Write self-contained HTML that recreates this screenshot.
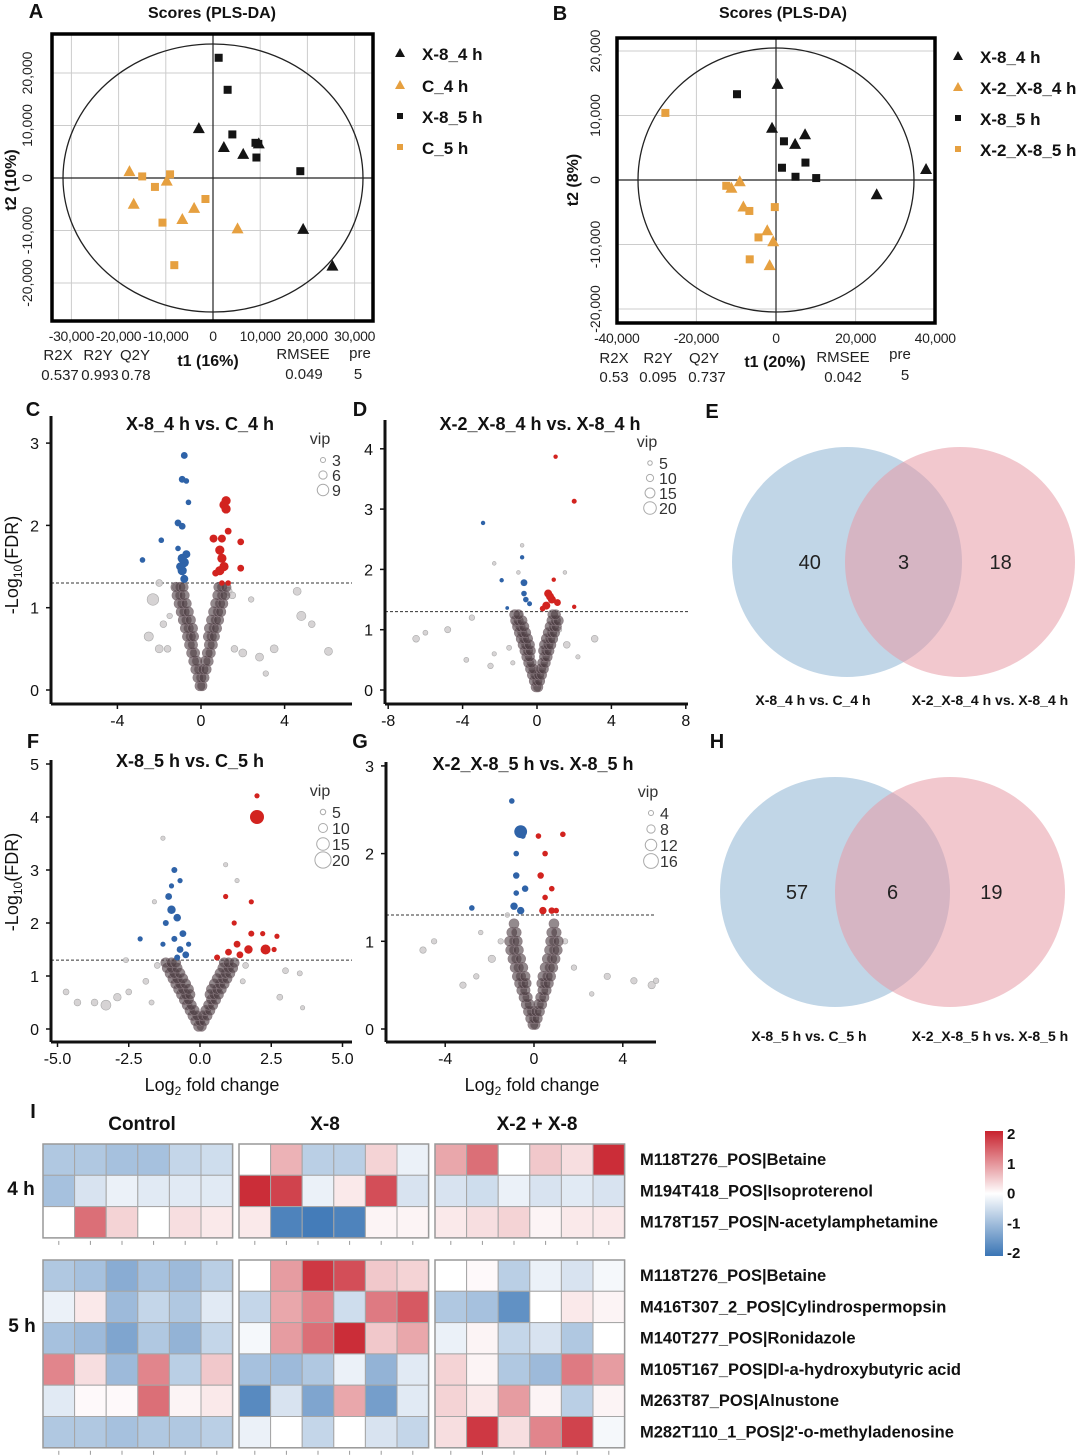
<!DOCTYPE html>
<html><head><meta charset="utf-8">
<style>
html,body{margin:0;padding:0;background:#fff;}
svg{display:block;font-family:"Liberation Sans",Arial,sans-serif;}
</style></head>
<body>
<svg id="fig" width="1080" height="1456" viewBox="0 0 1080 1456" xmlns="http://www.w3.org/2000/svg"></svg>
<script>
// ---------- PANEL A data (PLS-DA scores) ----------
const aX8_4h = [[-3000,9500],[2300,5900],[6400,4600],[9700,6600],[19100,-9700],[25300,-16700]];
const aC_4h = [[-17700,1300],[-16800,-4900],[-9800,-500],[-4000,-5700],[-6500,-7800],[5200,-9600]];
const aX8_5h = [[1200,22900],[3100,16800],[4100,8300],[9000,6700],[9600,6500],[9200,3900],[18500,1300]];
const aC_5h = [[-15000,300],[-12300,-1700],[-9100,700],[-1600,-4000],[-10700,-8500],[-8200,-16600]];
const aXTicks = [-30000,-20000,-10000,0,10000,20000,30000];
const aYTicks = [-20000,-10000,0,10000,20000];
// ---------- PANEL B data ----------
const bX8_4h = [[400,14900],[-1000,8100],[4800,5600],[7300,7100],[25300,-2200],[37700,1700]];
const bX2X8_4h = [[-9100,-200],[-11200,-1200],[-8200,-4100],[-2200,-7800],[-700,-9500],[-1600,-13200]];
const bX8_5h = [[-9800,13300],[2000,6000],[7400,2700],[1500,1900],[4900,500],[10100,300]];
const bX2X8_5h = [[-27800,10400],[-12500,-900],[-6700,-4800],[-300,-4200],[-4400,-8900],[-6600,-12300]];
const bXTicks = [-40000,-20000,0,20000,40000];
const bYTicks = [-20000,-10000,0,10000,20000];
// ---------- Volcano data: [log2FC, -log10FDR, vip] ----------
const cBlue = [[-0.8,2.85,4],[-0.9,2.56,4],[-0.7,2.54,3],[-0.6,2.28,3],[-1.1,2.03,4],[-0.9,1.99,4],[-1.9,1.82,3],[-1.1,1.72,3],[-0.7,1.65,5],[-0.8,1.55,6],[-0.9,1.45,6],[-0.8,1.35,5],[-2.8,1.58,3],[-0.9,1.6,6],[-1.0,1.5,5]];
const cRed = [[1.2,2.3,6],[1.1,2.25,6],[1.3,1.93,4],[0.6,1.84,5],[1.0,1.84,5],[1.9,1.8,4],[0.9,1.7,6],[1.0,1.6,6],[1.1,1.5,6],[0.9,1.45,6],[1.9,1.48,4],[0.7,1.42,4],[1.3,1.3,3],[1.0,1.3,3],[1.2,2.2,6]];
const cGray = [[-2.3,1.1,8],[-2.5,0.65,6],[-2,0.5,5],[-1.8,0.8,4],[-1.5,0.9,3],[1.6,0.5,4],[2,0.45,5],[2.8,0.4,5],[3.5,0.5,5],[4.6,1.2,5],[4.8,0.9,6],[5.3,0.8,4],[6.1,0.47,5],[3.1,0.2,3],[2.4,1.1,3],[1.3,1.2,5],[-1.2,1.25,4],[-2.0,1.3,4],[1.5,1.15,4],[-1.6,0.5,4]];
const cCore = [[-0.05,0.05],[0.05,0.05],[-0.15,0.15],[0,0.15],[0.15,0.15],[-0.25,0.25],[-0.1,0.25],[0.1,0.25],[0.25,0.25],[-0.35,0.35],[-0.2,0.35],[0.2,0.35],[0.35,0.35],[-0.45,0.45],[-0.3,0.45],[0.3,0.45],[0.45,0.45],[-0.55,0.55],[-0.4,0.55],[0.4,0.55],[0.55,0.55],[-0.65,0.65],[-0.5,0.65],[-0.35,0.65],[0.35,0.65],[0.5,0.65],[0.65,0.65],[-0.75,0.75],[-0.6,0.75],[-0.4,0.75],[0.4,0.75],[0.6,0.75],[0.75,0.75],[-0.85,0.85],[-0.7,0.85],[-0.5,0.85],[0.5,0.85],[0.7,0.85],[0.85,0.85],[-0.95,0.95],[-0.8,0.95],[-0.6,0.95],[0.6,0.95],[0.8,0.95],[0.95,0.95],[-1.05,1.05],[-0.9,1.05],[-0.7,1.05],[0.7,1.05],[0.9,1.05],[1.05,1.05],[-1.15,1.15],[-1.0,1.15],[-0.8,1.15],[0.8,1.15],[1.0,1.15],[1.15,1.15],[-1.2,1.25],[-1.0,1.25],[-0.85,1.25],[0.85,1.25],[1.0,1.25],[1.2,1.25]];
const dBlue = [[-2.9,2.77,4],[-0.8,2.2,4],[-1.9,1.82,4],[-0.7,1.78,8],[-0.7,1.6,6],[-0.6,1.5,6],[-0.4,1.43,5],[-1.6,1.36,3]];
const dRed = [[1.0,3.87,4],[2.0,3.13,5],[0.9,1.83,4],[0.6,1.6,10],[0.8,1.5,10],[0.5,1.4,10],[1.1,1.45,8],[0.3,1.35,6],[2.0,1.38,4],[0.7,1.55,10]];
const dGray = [[-6.5,0.85,8],[-6,0.95,5],[-4.8,1,7],[-3.5,1.2,6],[-3.8,0.5,5],[-2.3,0.6,4],[-2.5,0.4,6],[-1.5,0.7,5],[-1.3,0.45,4],[-0.8,2.4,3],[-1.0,1.95,3],[-2.3,2.1,3],[1.6,0.75,8],[3.1,0.85,8],[2.2,0.55,4],[1.5,1.95,3],[-1.2,1.1,5],[1.2,1.0,5],[-0.9,1.25,4]];
const dCore = [[-0.05,0.05],[0.05,0.05],[-0.15,0.15],[0,0.15],[0.15,0.15],[-0.25,0.25],[-0.1,0.25],[0.1,0.25],[0.25,0.25],[-0.35,0.35],[-0.2,0.35],[0.2,0.35],[0.35,0.35],[-0.45,0.45],[-0.3,0.45],[0.3,0.45],[0.45,0.45],[-0.55,0.55],[-0.4,0.55],[0.4,0.55],[0.55,0.55],[-0.65,0.65],[-0.5,0.65],[-0.35,0.65],[0.35,0.65],[0.5,0.65],[0.65,0.65],[-0.75,0.75],[-0.6,0.75],[-0.4,0.75],[0.4,0.75],[0.6,0.75],[0.75,0.75],[-0.85,0.85],[-0.7,0.85],[-0.5,0.85],[0.5,0.85],[0.7,0.85],[0.85,0.85],[-0.95,0.95],[-0.8,0.95],[-0.6,0.95],[0.6,0.95],[0.8,0.95],[0.95,0.95],[-1.05,1.05],[-0.9,1.05],[-0.7,1.05],[0.7,1.05],[0.9,1.05],[1.05,1.05],[-1.15,1.15],[-1.0,1.15],[-0.8,1.15],[0.8,1.15],[1.0,1.15],[1.15,1.15],[-1.2,1.25],[-1.0,1.25],[0.85,1.25],[1.0,1.25]];
const fBlue = [[-0.9,3.0,5],[-1.0,2.7,4],[-0.7,2.8,4],[-1.1,2.5,6],[-1.0,2.25,8],[-0.8,2.1,7],[-1.2,2.0,5],[-0.6,1.8,6],[-0.9,1.7,5],[-0.7,1.5,6],[-0.5,1.4,6],[-1.3,1.6,4],[-2.1,1.7,4],[-0.8,1.35,5],[-0.4,1.6,4]];
const fRed = [[2.0,4.4,4],[2.0,4.0,15],[0.9,2.5,4],[1.8,2.4,4],[1.2,2.0,4],[1.8,1.8,5],[2.2,1.8,4],[2.7,1.75,4],[1.3,1.6,6],[2.3,1.5,10],[1.7,1.5,8],[1.0,1.45,6],[2.6,1.5,4],[0.6,1.35,5],[1.4,1.4,6]];
const fGray = [[-4.7,0.7,5],[-4.3,0.5,6],[-3.7,0.5,6],[-3.3,0.45,10],[-2.9,0.6,7],[-2.5,0.7,5],[-1.9,0.9,5],[-2.6,1.3,4],[3.0,1.1,5],[3.5,1.05,4],[2.8,0.6,5],[3.6,0.4,3],[1.5,0.9,4],[-1.3,3.6,3],[0.9,3.1,3],[1.3,2.8,3],[-1.6,2.4,3],[-1.5,1.2,5],[1.6,1.2,5],[-1.7,0.5,4]];
const fCore = [[-0.05,0.05],[0.05,0.05],[-0.15,0.15],[0,0.15],[0.15,0.15],[-0.25,0.25],[-0.1,0.25],[0.1,0.25],[0.25,0.25],[-0.35,0.35],[-0.2,0.35],[0.2,0.35],[0.35,0.35],[-0.45,0.45],[-0.3,0.45],[0.3,0.45],[0.45,0.45],[-0.55,0.55],[-0.4,0.55],[0.4,0.55],[0.55,0.55],[-0.65,0.65],[-0.5,0.65],[-0.35,0.65],[0.35,0.65],[0.5,0.65],[0.65,0.65],[-0.75,0.75],[-0.6,0.75],[-0.4,0.75],[0.4,0.75],[0.6,0.75],[0.75,0.75],[-0.85,0.85],[-0.7,0.85],[-0.5,0.85],[0.5,0.85],[0.7,0.85],[0.85,0.85],[-0.95,0.95],[-0.8,0.95],[-0.6,0.95],[0.6,0.95],[0.8,0.95],[0.95,0.95],[-1.05,1.05],[-0.9,1.05],[-0.7,1.05],[0.7,1.05],[0.9,1.05],[1.05,1.05],[-1.15,1.15],[-1.0,1.15],[-0.8,1.15],[0.8,1.15],[1.0,1.15],[1.15,1.15],[-1.2,1.25],[-1.0,1.25],[-0.85,1.25],[0.85,1.25],[1.0,1.25],[1.2,1.25]];
const gBlue = [[-0.6,2.25,12],[-1.0,2.6,4],[-0.8,2.0,4],[-0.5,2.2,4],[-0.8,1.75,5],[-0.4,1.6,5],[-0.9,1.4,6],[-0.6,1.35,6],[-2.8,1.38,4],[-0.8,1.55,4]];
const gRed = [[0.2,2.2,4],[1.3,2.22,4],[0.5,2.0,4],[0.3,1.75,5],[0.8,1.6,4],[0.5,1.5,4],[0.4,1.35,6],[0.8,1.35,5],[1.0,1.35,4]];
const gGray = [[-5,0.9,5],[-4.5,1.0,4],[-3.2,0.5,5],[-2.6,0.6,4],[-1.9,0.8,6],[3.3,0.6,5],[4.5,0.55,5],[5.3,0.5,6],[5.5,0.55,4],[2.6,0.4,3],[-1.2,1.3,3],[-2.4,1.1,3],[-1.5,1.0,4],[1.4,1.0,4],[1.8,0.7,4]];
const gCore = [[-0.05,0.05],[0.05,0.05],[-0.15,0.12],[0,0.12],[0.15,0.12],[-0.25,0.2],[-0.1,0.2],[0.1,0.2],[0.25,0.2],[-0.35,0.28],[-0.2,0.28],[0.2,0.28],[0.35,0.28],[-0.45,0.36],[-0.3,0.36],[0.3,0.36],[0.45,0.36],[-0.55,0.44],[-0.4,0.44],[0.4,0.44],[0.55,0.44],[-0.65,0.52],[-0.5,0.52],[-0.35,0.52],[0.35,0.52],[0.5,0.52],[0.65,0.52],[-0.75,0.6],[-0.6,0.6],[-0.4,0.6],[0.4,0.6],[0.6,0.6],[0.75,0.6],[-0.85,0.7],[-0.7,0.7],[-0.5,0.7],[0.5,0.7],[0.7,0.7],[0.85,0.7],[-0.95,0.8],[-0.8,0.8],[-0.6,0.8],[0.6,0.8],[0.8,0.8],[0.95,0.8],[-1.05,0.9],[-0.9,0.9],[-0.7,0.9],[0.7,0.9],[0.9,0.9],[1.05,0.9],[-1.1,1.0],[-0.9,1.0],[-0.75,1.0],[0.75,1.0],[0.9,1.0],[1.1,1.0],[-1.0,1.1],[-0.8,1.1],[0.8,1.1],[1.0,1.1],[-0.9,1.2],[0.9,1.2]];
// ---------- Venn counts ----------
const venn4h = [40,3,18];
const venn5h = [57,6,19];
// ---------- Heatmap ----------
const hmRows4h = ["M118T276_POS|Betaine","M194T418_POS|Isoproterenol","M178T157_POS|N-acetylamphetamine"];
const hmRows5h = ["M118T276_POS|Betaine","M416T307_2_POS|Cylindrospermopsin","M140T277_POS|Ronidazole","M105T167_POS|Dl-a-hydroxybutyric acid","M263T87_POS|Alnustone","M282T110_1_POS|2'-o-methyladenosine"];
const hmGroups = ["Control","X-8","X-2 + X-8"];
const hm4h = [
 [-0.8,-0.8,-0.9,-0.9,-0.6,-0.5, 0,0.7,-0.7,-0.7,0.4,-0.2, 0.8,1.3,0,0.5,0.3,1.9],
 [-0.9,-0.4,-0.2,-0.3,-0.3,-0.3, 1.9,1.7,-0.2,0.2,1.6,-0.4, -0.4,-0.5,-0.2,-0.4,-0.3,-0.4],
 [0,1.3,0.4,0,0.3,0.2, 0.2,-1.8,-1.9,-1.8,0.1,0.1, 0.2,0.3,0.4,0.1,0.2,0.2]];
const hm5h = [
 [-0.8,-0.9,-1.2,-0.9,-1.0,-0.7, 0,0.9,1.8,1.6,0.5,0.4, 0,0.05,-0.7,-0.2,-0.4,-0.1],
 [-0.2,0.2,-1.0,-0.6,-0.8,-0.3, -0.6,0.8,1.1,-0.5,1.2,1.5, -0.8,-0.9,-1.6,0,0.2,0.1],
 [-0.9,-1.0,-1.3,-0.8,-1.1,-0.6, -0.1,0.9,1.3,1.9,0.5,0.8, -0.2,0.1,-0.6,-0.4,-0.8,0],
 [1.1,0.3,-1.0,1.1,-0.7,0.5, -0.9,-1.0,-0.8,-0.2,-1.1,-0.3, 0.4,0.1,-0.8,-1.0,1.2,0.9],
 [-0.3,0.05,0.05,1.3,0.1,0.2, -1.7,-0.4,-1.3,0.8,-1.4,-0.3, 0.4,0.2,0.9,0.1,-0.7,0.1],
 [-0.8,-0.8,-0.9,-0.8,-0.8,-0.7, -0.2,0,-0.6,0,-0.4,-0.6, 0.3,1.8,0.3,1.1,1.7,-0.1]];
const cbTicks = [2,1,0,-1,-2];

const NS="http://www.w3.org/2000/svg";
const svg=document.getElementById('fig');
function mk(tag,attrs,parent){const e=document.createElementNS(NS,tag);for(const k in attrs)e.setAttribute(k,attrs[k]);(parent||svg).appendChild(e);return e;}
function txt(s,x,y,opt,parent){const e=mk('text',Object.assign({x:x,y:y,'font-size':16,fill:'#111','text-anchor':'middle'},opt||{}),parent);e.textContent=s;return e;}
function fmt(v){const a=Math.abs(v).toLocaleString('en-US');return (v<0?'-':'')+a;}

// ===== PLS-DA =====
function pls(o){
  const g=mk('g',{});
  
  
  const X=v=>o.x0+v*o.kx/1000, Y=v=>o.y0-v*o.ky/1000;
  o.xt.forEach(t=>{const l=mk('line',{x1:X(t),x2:X(t),y1:o.top,y2:o.bot,stroke:'#ccc','stroke-width':1},g);
    
    const t1=txt(fmt(t),X(t),o.bot+20,{'font-size':14,fill:'#222','letter-spacing':'-0.3'},g);
    });
  o.yt.forEach(t=>{const l=mk('line',{x1:o.left,x2:o.right,y1:Y(t),y2:Y(t),stroke:'#ccc','stroke-width':1},g);
    
    const t1=txt(fmt(t),o.ylx,Y(t),{'font-size':14,fill:'#222',transform:`rotate(-90 ${o.ylx} ${Y(t)})`},g);
    });
  const el=mk('ellipse',{cx:X(0),cy:Y(0),rx:o.rx,ry:o.ry,fill:'none',stroke:'#222','stroke-width':1.3},g);
  
  const h=mk('line',{x1:o.left,x2:o.right,y1:Y(0),y2:Y(0),stroke:'#222','stroke-width':1.2},g);
  
  const v=mk('line',{x1:X(0),x2:X(0),y1:o.top,y2:o.bot,stroke:'#222','stroke-width':1.2},g);
  
  const b=mk('rect',{x:o.left,y:o.top,width:o.right-o.left,height:o.bot-o.top,fill:'none',stroke:'#000','stroke-width':3.5},g);
  
  o.series.forEach(s=>{
    s.pts.forEach(p=>{
      const cx=X(p[0]),cy=Y(p[1]);let m;
      if(s.shape==='tri') m=mk('path',{d:`M${cx},${cy-6}L${cx+6},${cy+5}L${cx-6},${cy+5}Z`,fill:s.color},g);
      else m=mk('rect',{x:cx-4,y:cy-4,width:8,height:8,fill:s.color},g);
      
    });
  });
  o.series.forEach((s,i)=>{
    const ly=o.legY[i], lx=o.legX;
    let m;
    if(s.shape==='tri') m=mk('path',{d:`M${lx},${ly-6}L${lx+5},${ly+3}L${lx-5},${ly+3}Z`,fill:s.color},g);
    else m=mk('rect',{x:lx-3,y:ly-4,width:6,height:6,fill:s.color},g);
    
    const t=txt(s.label,lx+22,ly+6,{'font-size':17,'font-weight':'bold','text-anchor':'start'},g);
    
  });
}
const black='#141414', orange='#e6a040';
pls({name:'pls-da-a',x0:213,kx:4.72,y0:178,ky:5.25,left:52,right:373,top:34,bot:321,rx:150,ry:134,xt:aXTicks,yt:aYTicks,ylx:32,
  legX:400,legY:[54,86,117,148],
  series:[{key:'x8-4h',label:'X-8_4 h',shape:'tri',color:black,pts:aX8_4h},{key:'c-4h',label:'C_4 h',shape:'tri',color:orange,pts:aC_4h},
          {key:'x8-5h',label:'X-8_5 h',shape:'sq',color:black,pts:aX8_5h},{key:'c-5h',label:'C_5 h',shape:'sq',color:orange,pts:aC_5h}]});
pls({name:'pls-da-b',x0:776,kx:3.98,y0:180,ky:6.45,left:617,right:935,top:38,bot:323,rx:138,ry:132,xt:bXTicks,yt:bYTicks,ylx:600,
  legX:958,legY:[57,88,119,150],
  series:[{key:'x8-4h',label:'X-8_4 h',shape:'tri',color:black,pts:bX8_4h},{key:'x2x8-4h',label:'X-2_X-8_4 h',shape:'tri',color:orange,pts:bX2X8_4h},
          {key:'x8-5h',label:'X-8_5 h',shape:'sq',color:black,pts:bX8_5h},{key:'x2x8-5h',label:'X-2_X-8_5 h',shape:'sq',color:orange,pts:bX2X8_5h}]});

function label(s,x,y,opt,name,inter){const t=txt(s,x,y,opt);return t;}
label('A',36,18,{'font-size':20,'font-weight':'bold'},'panel-label-a');
label('B',560,20,{'font-size':20,'font-weight':'bold'},'panel-label-b');
label('Scores (PLS-DA)',212,18,{'font-size':16,'font-weight':'bold'},'chart-title-a');
label('Scores (PLS-DA)',783,18,{'font-size':16,'font-weight':'bold'},'chart-title-b');
label('t2 (10%)',16,180,{'font-size':16,'font-weight':'bold',transform:'rotate(-90 16 180)'},'y-axis-title-a');
label('t2 (8%)',578,180,{'font-size':16,'font-weight':'bold',transform:'rotate(-90 578 180)'},'y-axis-title-b');
[['R2X',58,360],['R2Y',98,360],['Q2Y',135,360],['RMSEE',303,359],['pre',360,358],['0.537',60,380],['0.993',100,380],['0.78',136,380],['0.049',304,379],['5',358,379]].forEach(a=>label(a[0],a[1],a[2],{'font-size':15,fill:'#222'},'model-stat-a'));
label('t1 (16%)',208,366,{'font-size':16,'font-weight':'bold'},'x-axis-title-a');
[['R2X',614,363],['R2Y',658,363],['Q2Y',704,363],['RMSEE',843,362],['pre',900,359],['0.53',614,382],['0.095',658,382],['0.737',707,382],['0.042',843,382],['5',905,380]].forEach(a=>label(a[0],a[1],a[2],{'font-size':15,fill:'#222'},'model-stat-b'));
label('t1 (20%)',775,367,{'font-size':16,'font-weight':'bold'},'x-axis-title-b');

// ===== Volcano =====
function volcano(o){
  const g=mk('g',{});
  
  
  const X=v=>o.x0+v*o.kx, Y=v=>o.y0-v*o.ky, R=v=>o.r0+v*o.rk;
  const th=mk('line',{x1:o.left,x2:o.right,y1:Y(1.3),y2:Y(1.3),stroke:'#333','stroke-width':1,'stroke-dasharray':'3,2'},g);
  
  o.gray.forEach(p=>{const c=mk('circle',{cx:X(p[0]),cy:Y(p[1]),r:R(p[2]),fill:'#cfcbcc','fill-opacity':0.85,stroke:'#aaa','stroke-width':0.6},g);
    });
  o.core.forEach(p=>{const c=mk('circle',{cx:X(p[0]),cy:Y(p[1]),r:5,fill:'#4b3c41','fill-opacity':0.6,stroke:'#8a7a80','stroke-width':0.6},g);
    });
  o.blue.forEach(p=>{const c=mk('circle',{cx:X(p[0]),cy:Y(p[1]),r:R(p[2]),fill:'#2f63a8'},g);
    });
  o.red.forEach(p=>{const c=mk('circle',{cx:X(p[0]),cy:Y(p[1]),r:R(p[2]),fill:'#d2231f'},g);
    });
  const ya=mk('line',{x1:o.left,x2:o.left,y1:o.top,y2:o.axisY,stroke:'#111','stroke-width':3},g);
  
  const xa=mk('line',{x1:o.left,x2:o.right,y1:o.axisY,y2:o.axisY,stroke:'#111','stroke-width':3},g);
  
  o.yt.forEach(t=>{const tk=mk('line',{x1:o.left-5,x2:o.left,y1:Y(t),y2:Y(t),stroke:'#111','stroke-width':1.5},g);
    
    const l=txt(String(t),o.left-12,Y(t)+6,{'font-size':16,'text-anchor':'end'},g);
    });
  o.xt.forEach((t,i)=>{const tk=mk('line',{x1:X(t),x2:X(t),y1:o.axisY,y2:o.axisY+5,stroke:'#111','stroke-width':1.5},g);
    
    const l=txt(o.xtl[i],X(t),o.axisY+22,{'font-size':16},g);
    });
  const tt=txt(o.title,o.tx,o.ty,{'font-size':18,'font-weight':'bold'},g);
  
  const vl=txt('vip',o.vx,o.vy,{'font-size':16,fill:'#333'},g);
  
  o.vips.forEach((v,i)=>{const yy=o.vy+16+i*o.vs;
    const c=mk('circle',{cx:o.vx+3,cy:yy,r:R(v)*0.9,fill:'none',stroke:'#aaa','stroke-width':1},g);
    
    const l=txt(String(v),o.vx+12,yy+6,{'font-size':16,fill:'#333','text-anchor':'start'},g);
    });
}
volcano({name:'volcano-c',x0:201,kx:20.9,y0:690,ky:82.3,left:51,right:352,top:416,axisY:704,r0:1,rk:0.6,
  yt:[0,1,2,3],xt:[-4,0,4],xtl:['-4','0','4'],core:cCore,gray:cGray,blue:cBlue,red:cRed,
  title:'X-8_4 h vs. C_4 h',tx:200,ty:430,vx:320,vy:444,vips:[3,6,9],vs:15});
volcano({name:'volcano-d',x0:537,kx:18.6,y0:690,ky:60.3,left:385,right:688,top:420,axisY:704,r0:1,rk:0.3,
  yt:[0,1,2,3,4],xt:[-8,-4,0,4,8],xtl:['-8','-4','0','4','8'],core:dCore,gray:dGray,blue:dBlue,red:dRed,
  title:'X-2_X-8_4 h vs. X-8_4 h',tx:540,ty:430,vx:647,vy:447,vips:[5,10,15,20],vs:15});
volcano({name:'volcano-f',x0:200,kx:28.5,y0:1029,ky:53,left:51,right:352,top:760,axisY:1042,r0:1,rk:0.4,
  yt:[0,1,2,3,4,5],xt:[-5,-2.5,0,2.5,5],xtl:['-5.0','-2.5','0.0','2.5','5.0'],core:fCore,gray:fGray,blue:fBlue,red:fRed,
  title:'X-8_5 h vs. C_5 h',tx:190,ty:767,vx:320,vy:796,vips:[5,10,15,20],vs:16});
volcano({name:'volcano-g',x0:534,kx:22.2,y0:1029,ky:87.7,left:386,right:656,top:762,axisY:1042,r0:1,rk:0.45,
  yt:[0,1,2,3],xt:[-4,0,4],xtl:['-4','0','4'],core:gCore,gray:gGray,blue:gBlue,red:gRed,
  title:'X-2_X-8_5 h vs. X-8_5 h',tx:533,ty:770,vx:648,vy:797,vips:[4,8,12,16],vs:16});
label('C',33,416,{'font-size':20,'font-weight':'bold'},'panel-label-c');
label('D',360,416,{'font-size':20,'font-weight':'bold'},'panel-label-d');
label('E',712,418,{'font-size':20,'font-weight':'bold'},'panel-label-e');
label('F',33,748,{'font-size':20,'font-weight':'bold'},'panel-label-f');
label('G',360,748,{'font-size':20,'font-weight':'bold'},'panel-label-g');
label('H',717,748,{'font-size':20,'font-weight':'bold'},'panel-label-h');
[[565,'y-axis-title-c'],[882,'y-axis-title-f']].forEach(a=>{
  const t=mk('text',{x:18,y:a[0],'font-size':18,fill:'#111','text-anchor':'middle',transform:`rotate(-90 18 ${a[0]})`});
  t.innerHTML='-Log<tspan font-size="12" dy="4">10</tspan><tspan dy="-4">(FDR)</tspan>';
  });
[[212,'x-axis-title-f'],[532,'x-axis-title-g']].forEach(a=>{
  const t=mk('text',{x:a[0],y:1091,'font-size':18,fill:'#111','text-anchor':'middle'});
  t.innerHTML='Log<tspan font-size="12" dy="4">2</tspan><tspan dy="-4"> fold change</tspan>';
  });

// ===== Venn =====
function venn(o){
  const g=mk('g',{});
  
  
  const a=mk('circle',{cx:o.cx1,cy:o.cy,r:o.r,fill:'#a9c6de','fill-opacity':0.72},g);
  
  const b=mk('circle',{cx:o.cx2,cy:o.cy,r:o.r,fill:'#e79aa6','fill-opacity':0.55},g);
  
  const xs=[o.cx1-(o.cx2-o.cx1)*0.33,(o.cx1+o.cx2)/2,o.cx2+(o.cx2-o.cx1)*0.36];
  o.vals.forEach((v,i)=>{const t=txt(String(v),xs[i],o.cy+7,{'font-size':20,fill:'#222'},g);
    });
  o.labs.forEach((s,i)=>{const t=txt(s,o.lx[i],o.ly,{'font-size':14,'font-weight':'bold'},g);
    });
}
venn({name:'venn-4h',cx1:847,cx2:960,cy:562,r:115,vals:venn4h,labs:['X-8_4 h vs. C_4 h','X-2_X-8_4 h vs. X-8_4 h'],lx:[813,990],ly:705});
venn({name:'venn-5h',cx1:835,cx2:950,cy:892,r:115,vals:venn5h,labs:['X-8_5 h vs. C_5 h','X-2_X-8_5 h vs. X-8_5 h'],lx:[809,990],ly:1041});

// ===== Heatmap =====
function hmColor(v){
  const t=Math.max(-2,Math.min(2,v))/2;
  const w=[255,255,255], hi=[200,34,46], lo=[58,117,181];
  const e=t>=0?hi:lo, a=Math.abs(t);
  return `rgb(${Math.round(w[0]+(e[0]-w[0])*a)},${Math.round(w[1]+(e[1]-w[1])*a)},${Math.round(w[2]+(e[2]-w[2])*a)})`;
}
const blockX=[43,239,435], cellW=31.6, cellH=31.3;
function hmBlock(rows,names,top,name){
  const g=mk('g',{});
  
  
  rows.forEach((row,ri)=>{
    row.forEach((v,ci)=>{
      const b=Math.floor(ci/6), k=ci%6;
      const r=mk('rect',{x:blockX[b]+k*cellW,y:top+ri*cellH,width:cellW,height:cellH,fill:hmColor(v),stroke:'#a6a6a6','stroke-width':1},g);
      
    });
    const t=txt(names[ri],640,top+ri*cellH+21,{'font-size':16.5,'font-weight':'bold','text-anchor':'start'},g);
    
  });
  blockX.forEach(bx=>{
    const fr=mk('rect',{x:bx,y:top,width:cellW*6,height:cellH*rows.length,fill:'none',stroke:'#999','stroke-width':1.5},g);
    
    for(let k=0;k<6;k++){const tk=mk('line',{x1:bx+k*cellW+cellW/2,x2:bx+k*cellW+cellW/2,y1:top+cellH*rows.length+3,y2:top+cellH*rows.length+7,stroke:'#999','stroke-width':1},g);
      }
  });
}
hmBlock(hm4h,hmRows4h,1144,'heatmap-4h');
hmBlock(hm5h,hmRows5h,1260,'heatmap-5h');
label('I',33,1118,{'font-size':20,'font-weight':'bold'},'panel-label-i');
[142,325,537].forEach((x,i)=>label(hmGroups[i],x,1130,{'font-size':19,'font-weight':'bold'},'group-label'));
label('4 h',21,1195,{'font-size':19,'font-weight':'bold'},'time-label-4h');
label('5 h',22,1332,{'font-size':19,'font-weight':'bold'},'time-label-5h');
// colorbar
const defs=mk('defs',{});
const lg=mk('linearGradient',{id:'cbg',x1:0,y1:0,x2:0,y2:1},defs);
[[0,'rgb(200,34,46)'],[0.5,'#fff'],[1,'rgb(58,117,181)']].forEach(s=>mk('stop',{offset:s[0],'stop-color':s[1]},lg));
const cb=mk('rect',{x:985,y:1131,width:18,height:125,fill:'url(#cbg)'});

cbTicks.forEach(v=>{const y=1131+(2-v)/4*119+3;
  const t=txt(String(v),1007,y+5,{'font-size':15,'font-weight':'bold','text-anchor':'start'});
  });
</script>
</body></html>
